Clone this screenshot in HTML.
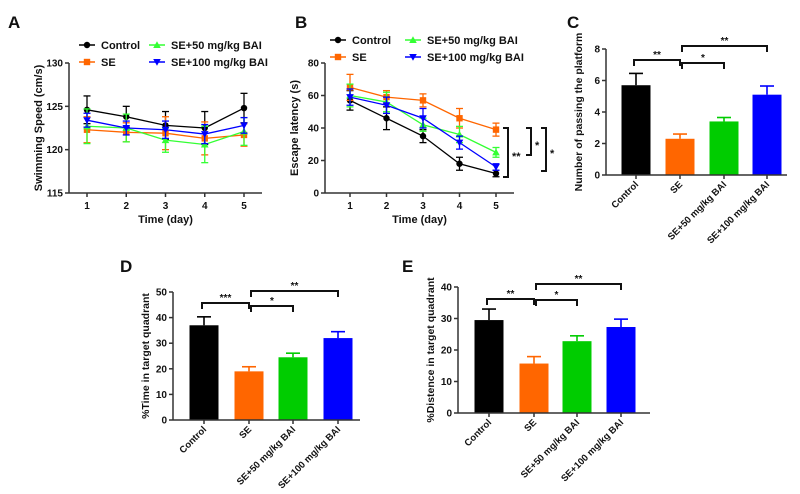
<!DOCTYPE html>
<html><head><meta charset="utf-8"><style>
html,body{margin:0;padding:0;background:#fff;}
svg{display:block;font-family:"Liberation Sans",Arial,sans-serif;font-weight:bold;}
</style></head><body>
<svg id="fig" width="800" height="494" viewBox="0 0 800 494" xmlns="http://www.w3.org/2000/svg"></svg>
<script>
// ---- data ----
const days = [1,2,3,4,5];
const groups = ["Control","SE","SE+50 mg/kg BAI","SE+100 mg/kg BAI"];
const colors = ["#000000","#ff6600","#00cc00","#0000ff"];
const lineColors = ["#000000","#ff6600","#33ff33","#0000ff"];
const speedMeans = [[124.6,123.8,122.8,122.5,124.8],[122.3,122.0,121.9,121.3,121.7],[122.7,122.5,121.1,120.6,122.1],[123.4,122.5,122.3,121.8,122.8]];
const speedErr = [[1.6,1.2,1.6,1.9,1.7],[1.5,1.1,1.9,1.9,1.3],[2.0,1.6,1.4,2.1,1.6],[0.8,0.8,1.0,1.1,0.9]];
const speedTicks = [115,120,125,130];
const latMeans = [[57,46,35,18,12],[65,59,57,46,39],[60,56,42,36,25],[59,54,46,31,16]];
const latErr = [[6,7,4,4,2],[8,4,4,6,4],[7,6,4,5,3],[5,5,6,4,2]];
const latTicks = [0,20,40,60,80];
const passMeans = [5.7,2.3,3.4,5.1];
const passErr = [0.75,0.3,0.25,0.55];
const passTicks = [0,2,4,6,8];
const timeMeans = [37,19,24.5,32];
const timeErr = [3.3,1.8,1.6,2.5];
const timeTicks = [0,10,20,30,40,50];
const distMeans = [29.5,15.7,22.8,27.3];
const distErr = [3.5,2.2,1.7,2.5];
const distTicks = [0,10,20,30,40];

const NS="http://www.w3.org/2000/svg";
const svg=document.getElementById('fig');
function el(tag,attrs,parent,text){const e=document.createElementNS(NS,tag);for(const k in attrs)e.setAttribute(k,attrs[k]);if(text!==undefined)e.textContent=text;(parent||svg).appendChild(e);return e;}
function txt(x,y,s,size,anchor,parent,name){const t=el('text',{x:x,y:y,'font-size':size,'text-anchor':anchor||'start',fill:'#111'},parent,s);


return t;}
function line(x1,y1,x2,y2,c,w,parent){return el('line',{x1:x1,y1:y1,x2:x2,y2:y2,stroke:c||'#222','stroke-width':w||1.5},parent);}

function marker(g,i,x,y,c){
  let m;
  if(i===0) m=el('circle',{cx:x,cy:y,r:3.2,fill:c},g);
  else if(i===1) m=el('rect',{x:x-3.2,y:y-3.2,width:6.4,height:6.4,fill:c},g);
  else if(i===2) m=el('polygon',{points:`${x},${y-3.8} ${x-3.8},${y+3} ${x+3.8},${y+3}`,fill:c},g);
  else m=el('polygon',{points:`${x},${y+3.8} ${x-3.8},${y-3} ${x+3.8},${y-3}`,fill:c},g);
  
  
}

function yAxis(g,ax,ticks,sy,x0,x1){
  line(ax,sy(ticks[ticks.length-1]),ax,sy(ticks[0]),'#333',1.5,g);
  line(ax,sy(ticks[0]),x1,sy(ticks[0]),'#333',1.5,g);
  ticks.forEach(t=>{line(ax-4,sy(t),ax,sy(t),'#333',1.5,g);txt(ax-6,sy(t)+3.5,String(t),10,'end',g,'y-tick-label');});
}

function lineChart(name,ox,ax,xEnd,yTop,yBot,ticks,means,errs,ylab,legX,legY){
  const g=el('g',{});
  
  
  const lo=ticks[0],hi=ticks[ticks.length-1];
  const sy=v=>yBot-(v-lo)/(hi-lo)*(yBot-yTop);
  const sx=d=>ox+(d-1)*((xEnd-ox)/4);
  yAxis(g,ax,ticks,sy,ax,xEnd+18);
  days.forEach(d=>{line(sx(d),yBot,sx(d),yBot+4,'#333',1.5,g);txt(sx(d),yBot+16,String(d),10,'middle',g,'x-tick-label');});
  txt((ax+xEnd+18)/2,yBot+30,'Time (day)',11,'middle',g,'x-axis-title');
  const yl=txt(0,0,ylab,11,'middle',g,'y-axis-title');yl.setAttribute('transform',`translate(${ax-27},${(yTop+yBot)/2}) rotate(-90)`);
  means.forEach((ser,i)=>{
    const c=lineColors[i];
    const pts=ser.map((v,j)=>`${sx(days[j])},${sy(v)}`).join(' ');
    const pl=el('polyline',{points:pts,fill:'none',stroke:c,'stroke-width':1.3},g);
    
    
    ser.forEach((v,j)=>{
      const x=sx(days[j]),e=errs[i][j];
      line(x,sy(v-e),x,sy(v+e),c,1.3,g);
      line(x-3.5,sy(v-e),x+3.5,sy(v-e),c,1.3,g);
      line(x-3.5,sy(v+e),x+3.5,sy(v+e),c,1.3,g);
      marker(g,i,x,sy(v),c);
    });
  });
  groups.forEach((gn,i)=>{
    const lx=legX[0]+(i>=2?legX[1]:0), ly=legY+(i%2)*17;
    const lg=el('g',{},g);
    
    
    line(lx-8,ly,lx+8,ly,lineColors[i],1.5,lg);
    marker(lg,i,lx,ly,lineColors[i]);
    txt(lx+14,ly+4,gn,11,'start',lg,'legend-label');
  });
  return g;
}
lineChart('chart-a-swimming-speed',87,69,244,63,193,speedTicks,speedMeans,speedErr,'Swimming Speed (cm/s)',[87,70],45);
lineChart('chart-b-escape-latency',350,325,496,63,193,latTicks,latMeans,latErr,'Escape latency (s)',[338,75],40);

// B significance brackets (open to the left, label to the right)
function vbracket(x,y1,y2,label,ly){
  const p=el('polyline',{points:`${x-5},${y1} ${x},${y1} ${x},${y2} ${x-5},${y2}`,fill:'none',stroke:'#111','stroke-width':2});
  
  
  txt(x+4,ly,label,11,'start',svg,'significance-label');
}
vbracket(508,128,177,'**',160);
vbracket(531,128,155,'*',149);
vbracket(546,128,171,'*',157);

function barChart(name,ax,xEnd,yTop,yBot,ticks,centers,means,errs,ylab,brackets){
  const g=el('g',{});
  
  
  const lo=ticks[0],hi=ticks[ticks.length-1];
  const sy=v=>yBot-(v-lo)/(hi-lo)*(yBot-yTop);
  const bw=29;
  means.forEach((v,i)=>{
    const x=centers[i],c=colors[i],e=errs[i];
    line(x,sy(v),x,sy(v+e),c,1.6,g);
    line(x-7,sy(v+e),x+7,sy(v+e),c,1.6,g);
    const r=el('rect',{x:x-bw/2,y:sy(v),width:bw,height:sy(lo)-sy(v),fill:c},g);
    
    
  });
  yAxis(g,ax,ticks,sy,ax,xEnd);
  centers.forEach((x,i)=>{
    line(x,yBot,x,yBot+4,'#333',1.5,g);
    const t=txt(0,0,groups[i],9.5,'end',g,'x-tick-label');
    t.setAttribute('transform',`translate(${x+3},${yBot+10}) rotate(-45)`);
  });
  const yl=txt(0,0,ylab,10.5,'middle',g,'y-axis-title');yl.setAttribute('transform',`translate(${ax-24},${(yTop+yBot)/2}) rotate(-90)`);
  brackets.forEach(b=>{
    const x1=centers[b[0]]+(b[0]===1&&b[1]>1?2:0)-(b[1]===1?2:0), x2=centers[b[1]];
    const p=el('polyline',{points:`${x1},${b[2]+6} ${x1},${b[2]} ${x2},${b[2]} ${x2},${b[2]+6}`,fill:'none',stroke:'#111','stroke-width':2},g);
    
    
    txt((x1+x2)/2,b[2]-2,b[3],10,'middle',g,'significance-label');
  });
}
barChart('chart-c-platform-crossings',606,787,49,175,passTicks,[636,680,724,767],passMeans,passErr,'Number of passing the platform',[[0,1,60,'**'],[1,2,63,'*'],[1,3,46,'**']]);
barChart('chart-d-time-in-quadrant',173,360,292,420,timeTicks,[204,249,293,338],timeMeans,timeErr,'%Time in target quadrant',[[0,1,303,'***'],[1,2,306,'*'],[1,3,291,'**']]);
barChart('chart-e-distance-in-quadrant',458,650,287,413,distTicks,[489,534,577,621],distMeans,distErr,'%Distence in target quadrant',[[0,1,299,'**'],[1,2,300,'*'],[1,3,284,'**']]);

[['A',8,28],['B',295,28],['C',567,28],['D',120,272],['E',402,272]].forEach(p=>{
  txt(p[1],p[2],p[0],17,'start',svg,'panel-label-'+p[0].toLowerCase());
});
</script>
</body></html>
